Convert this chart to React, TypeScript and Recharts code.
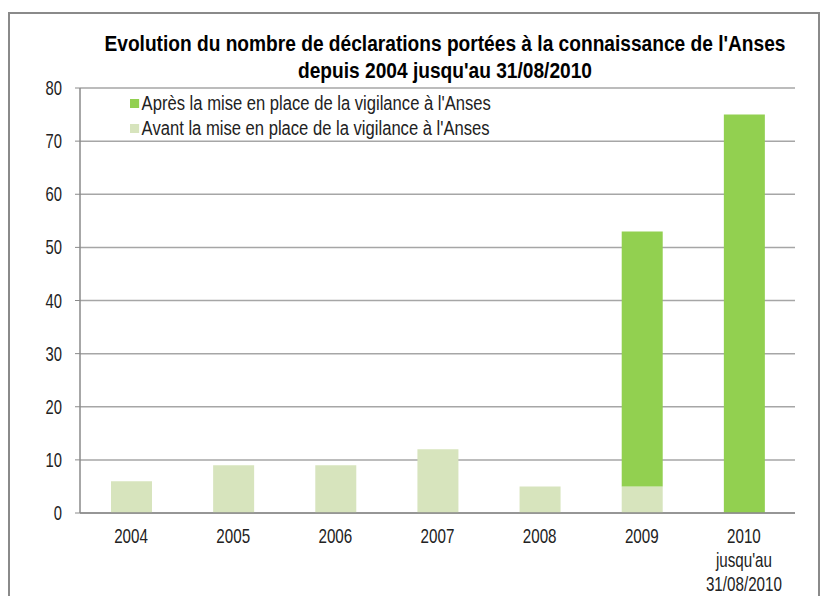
import React from 'react';
import { BarChart, Bar, XAxis, YAxis, CartesianGrid } from 'recharts';

const categories = ['2004', '2005', '2006', '2007', '2008', '2009', "2010\njusqu'au\n31/08/2010"];
const avantValues = [6, 9, 9, 12, 5, 5, 0];
const apresValues = [0, 0, 0, 0, 0, 48, 75];
const yTicks = [0, 10, 20, 30, 40, 50, 60, 70, 80];
const titleLines = ["Evolution du nombre de déclarations portées à la connaissance de l'Anses", "depuis 2004 jusqu'au 31/08/2010"];
const legendLabels = ["Après la mise en place de la vigilance à l'Anses", "Avant la mise en place de la vigilance à l'Anses"];

const FONT = '"Liberation Sans", Arial, sans-serif';
const LIGHT = '#D7E4BD';
const DARK = '#92D050';

const data = categories.map((c, i) => ({ name: c, avant: avantValues[i], apres: apresValues[i] }));

const XTick = (props: any) => {
  const { x, y, payload } = props;
  const lines = String(payload.value).split('\n');
  return (
    <g transform={`translate(${x},${y}) scale(0.76,1)`}>
      <text x={0} y={0} textAnchor="middle" fontFamily={FONT} fontSize={20} fill="#222">
        {lines.map((l, i) => (
          <tspan key={i} x={0} dy={i === 0 ? 22 : 24}>{l}</tspan>
        ))}
      </text>
    </g>
  );
};

const YTick = (props: any) => {
  const { x, y, payload } = props;
  return (
    <g transform={`translate(${x},${y}) scale(0.74,1)`}>
      <text x={0} y={0} dy="0.35em" textAnchor="end" fontFamily={FONT} fontSize={20} fill="#222">{payload.value}</text>
    </g>
  );
};

export default function App() {
  return (
    <div style={{ position: 'absolute', left: 0, top: 0, width: 822, height: 596, background: '#fff', overflow: 'hidden' }}>
      <div style={{ position: 'absolute', left: 8, top: 12, width: 812, height: 600, border: '2px solid #8a8a8a', boxSizing: 'border-box' }} />
      <div style={{ position: 'absolute', left: 0, top: 30, width: 890, textAlign: 'center', fontFamily: FONT, fontWeight: 'bold', fontSize: 22, lineHeight: '27px', color: '#000', transform: 'scaleX(0.87)', transformOrigin: '445px 0' }}>
        {titleLines.map((t, i) => <div key={i}>{t}</div>)}
      </div>
      <div style={{ position: 'absolute', left: 130, top: 91, fontFamily: FONT, fontSize: 20, lineHeight: '25px', color: '#222', transform: 'scaleX(0.83)', transformOrigin: '0 0', whiteSpace: 'nowrap' }}>
        {legendLabels.map((t, i) => (
          <div key={i} style={{ display: 'flex', alignItems: 'center' }}>
            <span style={{ display: 'inline-block', width: 11, height: 9, background: i === 0 ? DARK : LIGHT, marginRight: 3 }} />
            <span>{t}</span>
          </div>
        ))}
      </div>
      <BarChart width={822} height={596} data={data} margin={{ top: 88, right: 27, bottom: 0, left: 0 }} barSize={41}>
        <CartesianGrid vertical={false} stroke="#a6a6a6" strokeWidth={1.5} />
        <XAxis dataKey="name" interval={0} height={83} tick={<XTick />} tickLine={false} axisLine={{ stroke: '#8a8a8a', strokeWidth: 1.5 }} />
        <YAxis width={80} domain={[0, 80]} ticks={yTicks} interval={0} tickSize={5} tickMargin={13}
          tick={<YTick />}
          tickLine={{ stroke: '#8a8a8a' }} axisLine={{ stroke: '#8a8a8a', strokeWidth: 1.5 }} />
        <Bar dataKey="avant" stackId="a" fill={LIGHT} isAnimationActive={false} />
        <Bar dataKey="apres" stackId="a" fill={DARK} isAnimationActive={false} />
      </BarChart>
    </div>
  );
}
